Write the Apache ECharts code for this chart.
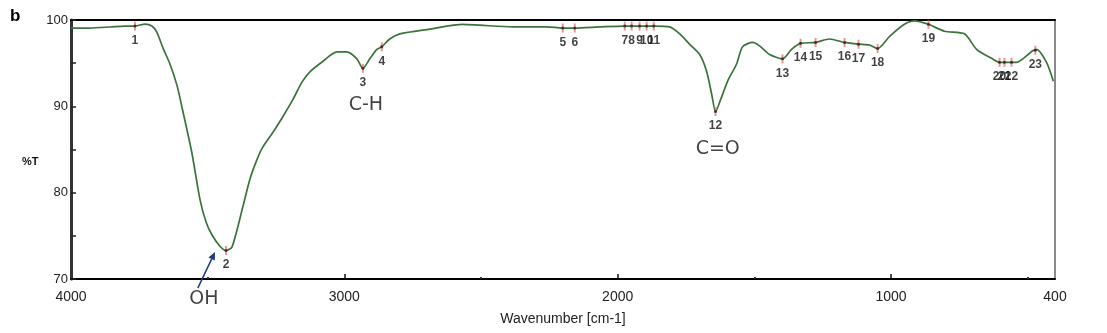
<!DOCTYPE html>
<html><head><meta charset="utf-8">
<script src="https://cdn.jsdelivr.net/npm/echarts@6/dist/echarts.min.js"></script>
<style>html,body{margin:0;padding:0;background:#fff}#c{width:1107px;height:333px}</style>
</head><body><div id="c"></div>
<script>
// Spectrum trace (wavenumber cm-1, %T)
const wavenumbers = [4000,3931,3857,3803,3766,3729,3704,3686,3664,3638,3612,3594,3558,3528,3506,3484,3455,3433,3411,3371,3346,3320,3298,3261,3225,3188,3155,3126,3079,3027,2991,2954,2932,2907,2881,2863,2834,2797,2687,2567,2505,2384,2260,2201,2157,2066,1974,1920,1865,1810,1773,1737,1700,1675,1656,1642,1623,1598,1565,1543,1506,1481,1444,1397,1364,1331,1276,1225,1170,1119,1079,1049,1005,951,914,863,804,731,687,629,603,541,483,468,431,406];
const transmittance = [99.07,99.07,99.19,99.3,99.3,99.53,99.3,98.6,96.8,94.9,92.4,89.9,84.65,79.2,76.6,75.1,73.8,73.3,73.7,78.4,81.5,83.8,85.3,87.0,88.8,90.8,92.8,94.0,95.2,96.3,96.3,95.5,94.4,95.5,96.6,96.9,97.8,98.4,98.95,99.5,99.4,99.2,99.2,99.07,99.07,99.2,99.3,99.3,99.3,99.2,98.4,97.2,96.0,94.1,91.4,89.4,90.8,92.9,94.9,96.9,97.4,97.0,96.0,95.5,96.6,97.3,97.4,97.8,97.4,97.2,97.1,96.7,98.1,99.5,99.9,99.5,98.7,98.4,96.6,95.5,95.1,95.1,96.4,96.6,95.1,92.9];

// Marked peaks
const peakLabels = ['1','2','3','4','5','6','7','8','9','10','11','12','13','14','15','16','17','18','19','20','21','22','23'];
const peakWavenumbers = [3766,3433,2932,2863,2201,2157,1974,1949,1920,1894,1868,1642,1397,1331,1276,1170,1119,1049,863,603,585,559,472];
const peakT = [99.3,73.3,94.4,96.9,99.07,99.07,99.3,99.3,99.3,99.3,99.3,89.4,95.5,97.3,97.4,97.4,97.2,96.7,99.5,95.1,95.1,95.1,96.5];

// Band annotations
const bandNames = ['C-H','C=O','OH'];
const bandWavenumbers = [2921,1634,3514];
const bandT = [90.1,85.0,67.7];
const arrowLine = [[3536,68.95,3473,73.14]];

const xLabelValues = [4000,3000,2000,1000,400];
const xMajorTicks = [3000,2000,1000];
const xMinorTicks = [3500,2500,1500,500];

const chart = echarts.init(document.getElementById('c'));
const baseFont = 'Liberation Sans';
chart.setOption({
  animation:false,
  backgroundColor:'#fff',
  grid:{left:71,right:52,top:20,bottom:54,containLabel:false},
  title:[
    {text:'b',left:5,top:3,textStyle:{fontFamily:baseFont,fontWeight:'bold',fontSize:17,color:'#000'}},
    {text:'%T',left:17,top:151,textStyle:{fontFamily:baseFont,fontWeight:'bold',fontSize:11,color:'#111'}}
  ],
  xAxis:[
    {type:'value',inverse:true,min:400,max:4000,position:'bottom',
     name:'Wavenumber [cm-1]',nameLocation:'middle',nameGap:33,
     nameTextStyle:{fontFamily:baseFont,fontSize:14,color:'#222'},
     axisLine:{show:true,lineStyle:{color:'#000',width:2}},
     axisTick:{show:true,inside:true,length:5,customValues:xMajorTicks,lineStyle:{color:'#111',width:1.5}},
     axisLabel:{show:true,customValues:xLabelValues,margin:11,fontFamily:baseFont,fontSize:14,color:'#222',
       formatter:v=>String(v)},
     splitLine:{show:false}},
    {type:'value',inverse:true,min:400,max:4000,position:'bottom',
     axisLine:{show:false},
     axisTick:{show:true,inside:true,length:2,customValues:xMinorTicks,lineStyle:{color:'#333',width:2}},
     axisLabel:{show:false},splitLine:{show:false}},
    {type:'value',inverse:true,min:400,max:4000,position:'top',
     axisLine:{show:true,lineStyle:{color:'#000',width:2}},
     axisTick:{show:false},axisLabel:{show:false},splitLine:{show:false}}
  ],
  yAxis:[
    {type:'value',min:70,max:100,interval:5,position:'left',
     axisLine:{show:true,lineStyle:{color:'#333',width:3}},
     axisTick:{show:true,inside:true,length:5,lineStyle:{color:'#222',width:1.5}},
     axisLabel:{margin:3,fontFamily:baseFont,fontSize:13,color:'#222',
       formatter:v=>(v%10===0?String(v):'')},
     splitLine:{show:false}},
    {type:'value',min:70,max:100,position:'right',
     axisLine:{show:true,lineStyle:{color:'#8a8a8a',width:2}},
     axisTick:{show:false},axisLabel:{show:false},splitLine:{show:false}}
  ],
  series:[
    {type:'line',xAxisIndex:0,yAxisIndex:0,smooth:0.25,symbol:'none',clip:false,
     data:wavenumbers.map((w,i)=>[w,transmittance[i]]),
     lineStyle:{color:'#3a743a',width:1.7}},
    {type:'scatter',xAxisIndex:0,yAxisIndex:0,symbol:'rect',symbolSize:[2,9],
     itemStyle:{color:'rgba(226,90,90,0.8)'},
     data:peakWavenumbers.map((w,i)=>[w,peakT[i]]),
     label:{show:true,position:'bottom',distance:4,fontFamily:baseFont,fontWeight:'bold',fontSize:12,color:'#111',
       formatter:p=>peakLabels[p.dataIndex]},
     z:3},
    {type:'scatter',xAxisIndex:0,yAxisIndex:0,symbol:'circle',symbolSize:3,
     itemStyle:{color:'#222'},
     data:peakWavenumbers.map((w,i)=>[w,peakT[i]]),z:4},
    {type:'scatter',xAxisIndex:0,yAxisIndex:0,symbolSize:0,clip:false,
     data:bandWavenumbers.map((w,i)=>[w,bandT[i]]),
     label:{show:true,position:'inside',fontFamily:'DejaVu Sans',fontSize:19,color:'#111',
       formatter:p=>bandNames[p.dataIndex]}},
    {type:'custom',xAxisIndex:0,yAxisIndex:0,clip:false,silent:true,
     data:arrowLine,
     renderItem:(params,api)=>{
       const a=api.coord([api.value(0),api.value(1)]);
       const b=api.coord([api.value(2),api.value(3)]);
       const ang=Math.atan2(b[1]-a[1],b[0]-a[0]);
       const L=8,W=3.5;
       const bx=b[0]-L*Math.cos(ang), by=b[1]-L*Math.sin(ang);
       const px=-Math.sin(ang), py=Math.cos(ang);
       return {type:'group',children:[
         {type:'line',shape:{x1:a[0],y1:a[1],x2:bx,y2:by},style:{stroke:'#1f3c7a',lineWidth:1.5}},
         {type:'polygon',shape:{points:[[b[0],b[1]],[bx+px*W,by+py*W],[bx-px*W,by-py*W]]},style:{fill:'#1f3c7a'}}
       ]};
     }}
  ]
});
</script></body></html>
